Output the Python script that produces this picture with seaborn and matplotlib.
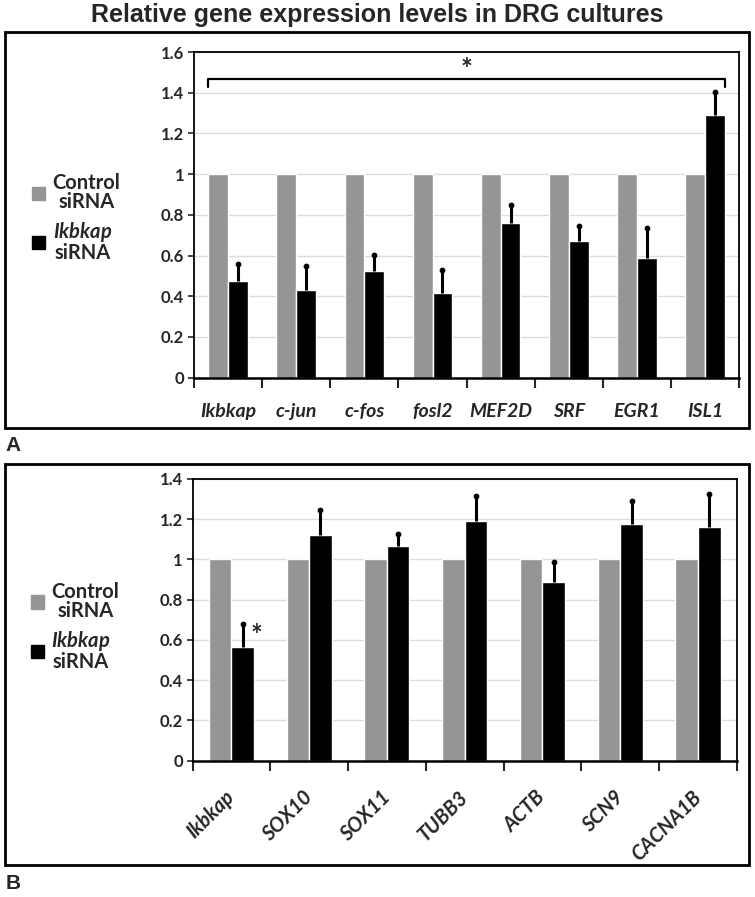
import matplotlib
matplotlib.use('Agg')
import matplotlib.pyplot as plt
from matplotlib.patches import Rectangle
import seaborn as sns
import pandas as pd

# Panel A values
genes_a = ['Ikbkap', 'c-jun', 'c-fos', 'fosl2', 'MEF2D', 'SRF', 'EGR1', 'ISL1']
control_a = [1, 1, 1, 1, 1, 1, 1, 1]
knock_a = [0.477, 0.433, 0.523, 0.416, 0.760, 0.671, 0.587, 1.293]
err_a = [0.079, 0.118, 0.079, 0.112, 0.089, 0.074, 0.148, 0.112]

# Panel B values
genes_b = ['Ikbkap', 'SOX10', 'SOX11', 'TUBB3', 'ACTB', 'SCN9', 'CACNA1B']
control_b = [1, 1, 1, 1, 1, 1, 1]
knock_b = [0.563, 1.122, 1.069, 1.190, 0.890, 1.178, 1.160]
err_b = [0.116, 0.122, 0.058, 0.127, 0.097, 0.114, 0.164]

conditions = ['Control siRNA', 'Ikbkap siRNA']
colors = ['#959595', '#000000']
ticks_a = [0, 0.2, 0.4, 0.6, 0.8, 1, 1.2, 1.4, 1.6]
ticks_b = [0, 0.2, 0.4, 0.6, 0.8, 1, 1.2, 1.4]

sns.set_style('white')
plt.rcParams['font.family'] = ['Lato', 'DejaVu Sans']
plt.rcParams['mathtext.fontset'] = 'custom'
plt.rcParams['mathtext.it'] = 'Lato:italic:bold'
plt.rcParams['mathtext.rm'] = 'Lato:bold'


def make_df(genes, control, knock):
    return pd.DataFrame({
        'gene': genes + genes,
        'value': control + knock,
        'condition': [conditions[0]] * len(genes) + [conditions[1]] * len(genes),
    })


def draw_panel(ax, genes, control, knock, err, ticks, rotate, leg_y):
    df = make_df(genes, control, knock)
    sns.barplot(data=df, x='gene', y='value', hue='condition', palette=colors,
                width=0.58, gap=0, saturation=1, errorbar=None, legend=False, ax=ax)
    # upward-only error bars on the knockdown bars
    xs = [p.get_x() + p.get_width() / 2 for p in ax.containers[1]]
    ax.errorbar(xs, knock, yerr=[[0] * len(err), err], fmt='none',
                ecolor='black', elinewidth=2.2, capsize=0, zorder=4)
    ax.scatter(xs, [k + e for k, e in zip(knock, err)], s=10, color='black', zorder=5)

    n = len(genes)
    ax.set_xlim(-0.5, n - 0.5)
    ax.set_ylim(0, ticks[-1])
    ax.set_yticks(ticks)
    ax.set_yticklabels([f'{t:g}' for t in ticks], fontsize=12, fontweight='bold')
    ax.yaxis.grid(True, color='#dcdcdc', lw=1)
    ax.set_axisbelow(True)
    ax.tick_params(axis='y', left=True, length=4, width=1.2, pad=3)
    ax.set_xticks([i - 0.5 for i in range(n + 1)], minor=True)
    ax.tick_params(axis='x', which='minor', bottom=True, length=7, width=1.5, direction='out')
    ax.tick_params(axis='x', which='major', bottom=False, length=0)
    ax.set_xticks(range(n))
    if rotate:
        ax.tick_params(axis='x', which='major', pad=24)
        ax.set_xticklabels(genes, rotation=45, ha='right', va='center',
                           rotation_mode='anchor', fontsize=14.5, fontweight='bold', style='italic')
    else:
        ax.tick_params(axis='x', which='major', pad=18)
        ax.set_xticklabels(genes, fontsize=14, fontweight='bold', style='italic')
    ax.set_xlabel('')
    ax.set_ylabel('')
    for s in ax.spines.values():
        s.set_visible(True)
        s.set_color('black')
        s.set_linewidth(1.3)
    ax.spines['bottom'].set_linewidth(1.8)

    handles = [Rectangle((0, 0), 1, 1, color=c) for c in colors]
    leg = ax.legend(handles, ['Control\nsiRNA', '$\\mathit{Ikbkap}$\nsiRNA'],
                    loc='center left', bbox_to_anchor=(-0.315, leg_y), frameon=False,
                    borderpad=0, handlelength=0.65, handleheight=0.65, handletextpad=0.35,
                    labelspacing=0.4, prop={'size': 14.5, 'weight': 'bold'})
    for t in leg.get_texts():
        t.set_multialignment('center')
        t.set_linespacing(0.95)
    return xs


fig = plt.figure(figsize=(7.55, 8.97), dpi=100)

ax_a = fig.add_axes([0.257, 0.579, 0.722, 0.363])
xs_a = draw_panel(ax_a, genes_a, control_a, knock_a, err_a, ticks_a, rotate=False, leg_y=0.49)
left = ax_a.containers[0][0]
right = ax_a.containers[1][len(genes_a) - 1]
x0 = left.get_x()
x1 = right.get_x() + right.get_width()
ax_a.plot([x0, x0, x1, x1], [1.428, 1.469, 1.469, 1.428], color='black', lw=1.6)
ax_a.text((x0 + x1) / 2, 1.51, '*', ha='center', va='center', fontsize=20, fontweight='bold')

ax_b = fig.add_axes([0.255, 0.152, 0.721, 0.314])
xs_b = draw_panel(ax_b, genes_b, control_b, knock_b, err_b, ticks_b, rotate=True, leg_y=0.475)
ax_b.text(xs_b[0] + 0.18, knock_b[0] + err_b[0] - 0.06, '*', ha='center', va='center',
          fontsize=20, fontweight='bold')

# panel frames
fig.add_artist(Rectangle((0.0066, 0.523), 0.985, 0.441, transform=fig.transFigure,
                         fill=False, lw=2, ec='black'))
fig.add_artist(Rectangle((0.0066, 0.0357), 0.985, 0.447, transform=fig.transFigure,
                         fill=False, lw=2, ec='black'))

fig.text(0.5, 0.983, 'Relative gene expression levels in DRG cultures', ha='center', va='center',
         fontsize=18, fontweight='bold', family='Liberation Sans')
fig.text(0.007, 0.503, 'A', ha='left', va='center', fontsize=15, fontweight='bold', family='Liberation Sans')
fig.text(0.007, 0.0145, 'B', ha='left', va='center', fontsize=15, fontweight='bold', family='Liberation Sans')

fig.savefig('out.png', dpi=100)
